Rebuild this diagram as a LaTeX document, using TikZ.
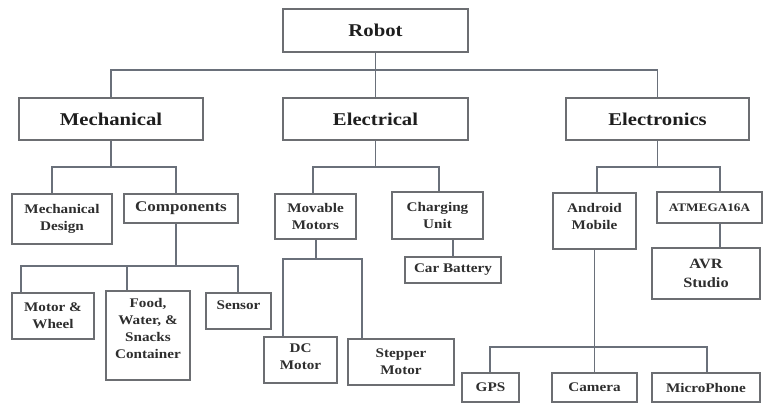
\documentclass[tikz,border=0pt]{standalone}
\usepackage{fontspec}
\setmainfont{Liberation Serif}[FakeStretch=1.15]
\definecolor{boxc}{HTML}{6C6E72}
\definecolor{linec}{HTML}{6A707A}
\definecolor{txtc}{HTML}{2E2E2E}
\definecolor{topc}{HTML}{1E1E1E}
\begin{document}
\begin{tikzpicture}[x=1pt,y=-1pt,
  box/.style={draw=boxc, line width=1.6pt, inner sep=0pt, align=center, text=txtc,
              font=\bfseries\fontsize{13.2}{17}\selectfont},
  big/.style={box, text=topc, font=\bfseries\fontsize{18}{22}\selectfont},
  txt/.style={inner sep=0pt, align=center, text=txtc, font=\bfseries\fontsize{13.2}{17}\selectfont},
  wire/.style={draw=linec, line width=1.7pt}]
\useasboundingbox (0,0) rectangle (763,404);
\fill[white] (0,0) rectangle (763,404);

% level 0/1
\node[big, minimum width=185pt, minimum height=43pt] (robot) at (375.5,30.5) {Robot};
\node[big, minimum width=184pt, minimum height=42pt] (mech) at (111,119) {Mechanical};
\node[big, minimum width=185pt, minimum height=42pt] (elec) at (375.5,119) {Electrical};
\node[big, minimum width=183pt, minimum height=42pt] (etron) at (657.5,119) {Electronics};

% level 2
\node[box, minimum width=100pt, minimum height=50pt] (mdes) at (62,219) {Mechanical\\Design};
\node[box, minimum width=114pt, minimum height=29pt, font=\bfseries\fontsize{14.8}{18}\selectfont] (comp) at (181,208.5) {Components};
\node[box, minimum width=81pt, minimum height=45pt] (movm) at (315.5,216.5) {Movable\\Motors};
\node[box, minimum width=91pt, minimum height=47pt] (charg) at (437.5,215.5) {Charging\\Unit};
\node[box, minimum width=83pt, minimum height=56pt] (andr) at (594.5,221) {};
\node[txt] (andrT) at ([yshift=5pt]andr.center) {Android\\Mobile};
\node[box, minimum width=105pt, minimum height=31pt, font=\bfseries\fontsize{11.5}{14}\selectfont] (atm) at (709.5,207.5) {ATMEGA16A};

% level 3
\node[box, minimum width=96pt, minimum height=26pt] (carb) at (453,270) {Car Battery};
\node[box, minimum width=108pt, minimum height=51pt, font=\bfseries\fontsize{14.2}{19}\selectfont] (avr) at (706,273.5) {AVR\\Studio};
\node[box, minimum width=82pt, minimum height=46pt] (mw) at (53,316) {Motor \&\\Wheel};
\node[box, minimum width=84pt, minimum height=89pt] (food) at (148,335.5) {};
\node[txt] (foodT) at ([yshift=7pt]food.center) {Food,\\Water, \&\\Snacks\\Container};
\node[box, minimum width=65pt, minimum height=36pt] (sens) at (238.5,311) {};
\node[txt] (sensT) at ([yshift=6pt]sens.center) {Sensor};
\node[box, minimum width=73pt, minimum height=46pt] (dc) at (300.5,360) {};
\node[txt] (dcT) at ([yshift=3pt]dc.center) {DC\\Motor};
\node[box, minimum width=106pt, minimum height=46pt] (stp) at (401,362) {Stepper\\Motor};
\node[box, minimum width=57pt, minimum height=29pt] (gps) at (490.5,387.5) {GPS};
\node[box, minimum width=85pt, minimum height=29pt] (cam) at (594.5,387.5) {Camera};
\node[box, minimum width=108pt, minimum height=29pt] (mic) at (706,387.5) {MicroPhone};

% junction coordinates
\coordinate (mL) at (52,167);   \coordinate (mR) at (176,167);
\coordinate (eL) at (313,167);  \coordinate (eR) at (439,167);
\coordinate (tL) at (597,167);  \coordinate (tR) at (720,167);
\coordinate (cj) at (176,266);  \coordinate (c1) at (21,266);
\coordinate (c2) at (127,266);  \coordinate (c3) at (238,266);
\coordinate (vj) at (316,259);  \coordinate (v1) at (283,259);
\coordinate (v2) at (362,259);
\coordinate (g1) at (490,347);  \coordinate (g3) at (707,347);

% connectors
\draw[wire] (robot.south) -- (elec.north);
\draw[wire] (mech.north) -- ++(0,-27) -| (etron.north);
\draw[wire] (mech.south) -- (mech.south |- mL);
\draw[wire] (mdes.north -| mL) -- (mL) -- (mR) -- (comp.north -| mR);
\draw[wire] (elec.south) -- (elec.south |- eL);
\draw[wire] (movm.north -| eL) -- (eL) -- (eR) -- (charg.north -| eR);
\draw[wire] (etron.south) -- (etron.south |- tL);
\draw[wire] (andr.north -| tL) -- (tL) -- (tR) -- (atm.north -| tR);
\draw[wire] (atm.south -| tR) -- (avr.north -| tR);
\draw[wire] (charg.south -| carb.north) -- (carb.north);
\draw[wire] (comp.south -| cj) -- (cj);
\draw[wire] (mw.north -| c1) -- (c1) -- (c3) -- (sens.north -| c3);
\draw[wire] (c2) -- (food.north -| c2);
\draw[wire] (movm.south -| vj) -- (vj);
\draw[wire] (dc.north -| v1) -- (v1) -- (v2) -- (stp.north -| v2);
\draw[wire] (andr.south) -- (cam.north);
\draw[wire] (gps.north -| g1) -- (g1) -- (g3) -- (mic.north -| g3);
\end{tikzpicture}
\end{document}
